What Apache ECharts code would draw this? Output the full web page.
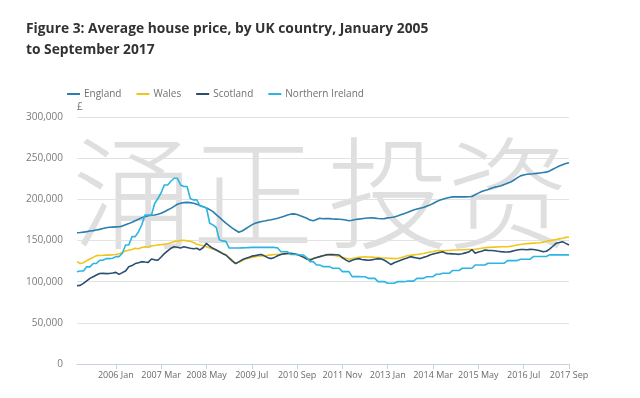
<!DOCTYPE html>
<html>
<head>
<meta charset="utf-8">
<script src="https://cdn.jsdelivr.net/npm/echarts@6/dist/echarts.min.js"></script>
<style>
  html, body { margin: 0; padding: 0; background: #fff; }
  #chart { width: 640px; height: 398px; }
</style>
</head>
<body>
<div id="chart"></div>
<script>
// average house price, £ thousands, monthly Jan 2005 - Sep 2017
const england = [
  159.5, 159.8, 160.2, 160.8, 161.5, 162.0, 162.8, 163.5, 164.5, 165.5, 166.0, 166.3,
  166.5, 166.7, 167.5, 169.0, 170.5, 172.2, 174.0, 175.8, 177.5, 179.0, 180.0, 180.6,
  181.0, 181.8, 183.0, 185.0, 187.0, 189.0, 191.5, 194.0, 195.3, 196.0, 196.3, 196.0,
  195.2, 194.0, 192.5, 191.0, 189.5, 187.5, 185.0, 181.5, 178.0, 174.5, 171.0, 168.0,
  165.0, 162.5, 160.0, 161.5, 164.0, 166.5, 169.0, 171.0, 172.0, 173.0, 173.7, 174.5,
  175.3, 176.2, 177.0, 178.2, 179.5, 181.0, 182.0, 182.3, 181.5, 180.0, 178.5, 177.0,
  174.8, 174.0, 175.5, 177.0, 176.5, 176.8, 176.6, 176.2, 176.0, 175.8, 175.5, 174.8,
  174.0, 174.5, 175.5, 176.0, 176.5, 177.0, 177.4, 177.6, 177.2, 176.8, 176.5, 176.6,
  177.5, 178.0, 178.6, 179.8, 181.2, 182.6, 184.0, 185.5, 187.0, 188.2, 189.2, 190.0,
  191.5, 193.0, 195.0, 197.0, 198.8, 200.0, 201.2, 202.2, 203.0, 203.2, 203.0, 203.1,
  203.0, 203.2, 203.5, 205.5, 207.5, 209.5, 210.8, 212.0, 213.5, 214.8, 215.5, 216.5,
  218.0, 219.5, 221.0, 223.5, 226.0, 228.5, 229.6, 230.5, 230.8, 231.0, 231.5, 232.0,
  232.5, 233.0, 234.5, 236.5, 238.5, 240.5, 242.0, 243.5, 244.5
];
const wales = [
  124.3, 122.0, 123.0, 125.5, 127.5, 129.5, 131.6, 131.8, 132.0, 132.4, 132.2, 132.6,
  133.0, 134.0, 135.5, 137.4, 138.2, 139.0, 140.5, 140.0, 141.5, 142.5, 141.8, 143.5,
  144.0, 144.6, 145.0, 145.5, 146.0, 147.2, 148.6, 149.2, 150.0, 150.2, 149.5, 149.0,
  147.5, 145.4, 144.6, 143.5, 142.5, 141.0, 139.8, 138.5, 136.5, 134.5, 132.4, 129.5,
  126.0, 122.0, 123.5, 125.5, 127.5, 128.5, 129.5, 130.4, 131.0, 131.2, 131.6, 132.0,
  132.5, 133.0, 133.2, 133.5, 134.0, 134.0, 133.8, 133.5, 133.0, 131.5, 130.0, 128.0,
  127.8, 128.0, 129.0, 130.4, 131.5, 133.0, 132.5, 132.0, 131.6, 130.5, 129.5, 128.5,
  127.5, 128.0, 128.8, 129.5, 130.0, 130.2, 130.0, 129.8, 129.5, 129.3, 129.0, 128.8,
  128.5, 128.3, 128.0, 128.2, 129.0, 130.2, 131.6, 132.0, 132.5, 133.0, 133.5, 134.3,
  135.2, 136.0, 136.4, 137.6, 137.8, 137.6, 137.9, 138.0, 138.2, 138.4, 138.5, 138.7,
  138.8, 139.0, 139.0, 139.4, 140.0, 140.6, 141.2, 141.7, 141.8, 142.0, 142.2, 142.5,
  142.5, 142.4, 143.0, 143.6, 144.5, 145.2, 145.7, 146.2, 146.5, 146.8, 147.0, 147.3,
  148.0, 149.0, 149.8, 150.5, 151.2, 152.0, 152.8, 153.8, 154.0
];
const scotland = [
  95.1, 95.5, 97.9, 101.0, 104.0, 106.0, 108.0, 110.0, 110.2, 109.8, 110.0, 110.5,
  111.3, 108.8, 111.0, 113.0, 118.0, 119.5, 122.0, 123.0, 124.3, 123.8, 123.4, 127.5,
  126.5, 126.0, 130.0, 134.0, 137.5, 140.5, 142.5, 141.8, 141.0, 142.5, 141.5, 140.5,
  140.0, 140.5, 138.5, 141.5, 146.6, 143.0, 140.5, 138.5, 136.4, 134.0, 132.4, 128.5,
  125.0, 122.0, 124.0, 126.5, 128.0, 129.5, 131.0, 131.6, 132.5, 133.0, 131.0, 129.0,
  128.0, 129.5, 131.5, 133.0, 133.8, 134.2, 134.6, 133.8, 133.0, 131.6, 129.5, 127.5,
  126.0, 128.0, 129.4, 130.4, 131.5, 132.5, 133.0, 132.8, 132.6, 132.4, 129.0, 126.5,
  124.3, 126.0, 127.2, 128.0, 127.0, 126.5, 126.0, 126.5, 127.2, 128.0, 127.5, 126.0,
  123.5, 120.8, 123.0, 124.5, 126.0, 127.5, 128.8, 130.4, 129.5, 128.8, 128.0, 129.5,
  130.5, 132.4, 133.5, 134.5, 135.5, 136.4, 134.4, 134.0, 133.8, 133.6, 133.2, 134.0,
  135.0, 136.0, 139.0, 134.4, 136.0, 137.0, 138.4, 138.0, 137.8, 137.6, 137.0, 136.5,
  136.2, 136.0, 136.5, 137.5, 138.5, 139.0, 139.0, 138.8, 139.2, 139.0, 138.5, 137.5,
  136.4, 137.0, 139.5, 143.0, 146.6, 147.5, 148.6, 146.5, 144.6
];
const northernIreland = [
  112.1, 113.0, 113.0, 118.0, 118.0, 122.0, 122.0, 126.0, 126.0, 128.0, 128.0, 128.5,
  130.4, 130.4, 134.6, 144.6, 144.6, 154.7, 154.7, 160.7, 168.8, 181.0, 181.0, 181.0,
  195.0, 201.0, 208.0, 217.5, 217.5, 222.0, 225.6, 225.6, 217.5, 215.5, 215.5, 201.0,
  199.3, 199.3, 192.0, 191.0, 189.5, 171.0, 169.0, 166.0, 150.9, 149.5, 148.9, 140.8,
  140.8, 140.8, 140.8, 141.0, 141.2, 141.4, 141.6, 141.6, 141.6, 141.6, 141.6, 141.6,
  141.6, 141.6, 141.0, 136.4, 136.4, 136.4, 133.0, 133.0, 133.0, 132.4, 132.4, 129.0,
  124.3, 124.3, 120.3, 120.3, 118.3, 118.3, 118.3, 116.3, 116.3, 116.3, 112.2, 112.2,
  112.2, 106.1, 106.1, 106.1, 106.0, 106.0, 104.0, 104.0, 104.0, 100.0, 100.0, 100.0,
  98.0, 98.0, 98.0, 100.0, 100.0, 100.0, 100.6, 100.6, 100.6, 104.0, 104.0, 104.0,
  106.0, 106.0, 106.0, 109.0, 109.0, 110.2, 110.2, 110.2, 113.5, 113.5, 113.5, 116.3,
  116.3, 116.3, 116.3, 120.3, 120.3, 120.3, 120.3, 122.4, 122.4, 122.4, 122.4, 122.4,
  122.4, 125.6, 125.6, 125.6, 125.6, 127.3, 127.3, 127.3, 127.3, 130.5, 130.5, 130.5,
  130.5, 130.5, 132.5, 132.5, 132.5, 132.5, 132.5, 132.5, 132.5
];

const monthNames = ['Jan', 'Feb', 'Mar', 'Apr', 'May', 'Jun', 'Jul', 'Aug', 'Sep', 'Oct', 'Nov', 'Dec'];
const months = [];
for (let i = 0; i < england.length; i++) {
  months.push((2005 + Math.floor(i / 12)) + ' ' + monthNames[i % 12]);
}
// labelled months: 2006 Jan, then every 14 months
const tickLabels = ['2006 Jan', '2007 Mar', '2008 May', '2009 Jul', '2010 Sep', '2011 Nov',
  '2013 Jan', '2014 Mar', '2015 May', '2016 Jul', '2017 Sep'];
const showTick = (idx) => tickLabels.indexOf(months[idx]) !== -1;

const watermark = ['涌', '正', '投', '资'];
const watermarkX = [72, 192, 327, 447];

const chart = echarts.init(document.getElementById('chart'));

const option = {
  animation: false,
  backgroundColor: '#fff',
  textStyle: { fontFamily: '"Open Sans", sans-serif' },
  title: {
    text: 'Figure 3: Average house price, by UK country, January 2005\nto September 2017',
    left: 21,
    top: 14,
    textStyle: {
      fontFamily: '"Open Sans", sans-serif',
      fontSize: 13.8,
      fontWeight: 'bold',
      color: '#323232',
      lineHeight: 21
    }
  },
  legend: {
    data: ['England', 'Wales', 'Scotland', 'Northern Ireland'],
    left: 62,
    top: 84,
    icon: 'rect',
    itemWidth: 13,
    itemHeight: 2,
    itemGap: 15,
    textStyle: { fontSize: 10, color: '#707070', padding: [0, 0, 0, -1] }
  },
  graphic: watermark.map((ch, i) => ({
    type: 'text',
    left: watermarkX[i],
    top: 132,
    z: 0,
    silent: true,
    style: {
      text: ch,
      font: '300 122px "Noto Sans CJK SC"',
      fill: 'rgba(175,175,175,0.4)'
    }
  })),
  grid: { left: 77, right: 71, top: 117, bottom: 34 },
  xAxis: {
    type: 'category',
    data: months,
    boundaryGap: false,
    axisLine: { lineStyle: { color: '#c8d2dc' } },
    axisTick: { interval: showTick, length: 5, lineStyle: { color: '#c8d2dc' } },
    axisLabel: { interval: showTick, color: '#6a6a6a', fontSize: 9, margin: 7 }
  },
  yAxis: {
    type: 'value',
    min: 0,
    max: 300,
    interval: 50,
    name: '£',
    nameLocation: 'end',
    nameGap: 5,
    nameTextStyle: { align: 'left', color: '#707070', fontSize: 10, padding: [0, 0, 0, 0] },
    axisLine: { show: false },
    axisTick: { show: false },
    axisLabel: {
      color: '#7a7a7a',
      fontSize: 10,
      margin: 14,
      formatter: (v) => v === 0 ? '0' : v + ',000'
    },
    splitLine: { lineStyle: { color: '#e2e2e2' } }
  },
  series: [
    { name: 'England', data: england, color: '#2a7fae' },
    { name: 'Wales', data: wales, color: '#f0c51c' },
    { name: 'Scotland', data: scotland, color: '#2a4d70' },
    { name: 'Northern Ireland', data: northernIreland, color: '#2cb5e2' }
  ].map(s => ({
    name: s.name,
    type: 'line',
    data: s.data,
    showSymbol: false,
    symbol: 'none',
    z: 3,
    itemStyle: { color: s.color },
    lineStyle: { color: s.color, width: 1.6 }
  }))
};

chart.setOption(option);
</script>
</body>
</html>
